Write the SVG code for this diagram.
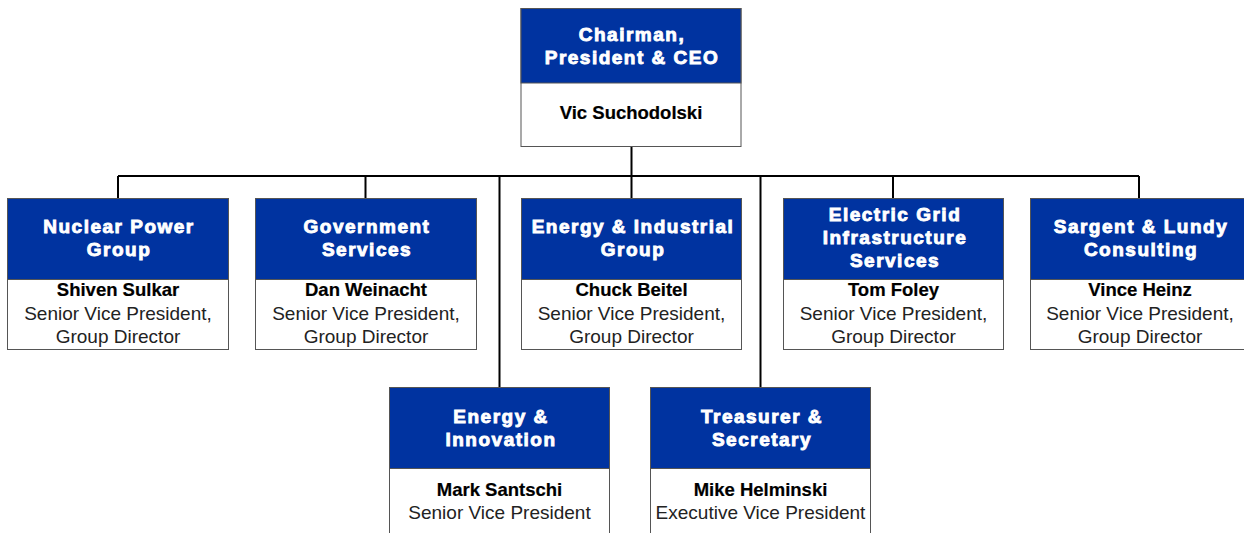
<svg xmlns="http://www.w3.org/2000/svg" width="1244" height="533" viewBox="0 0 1244 533">
<style>
.hd{fill:#0033a0;stroke:#555;stroke-width:1}
.bd{fill:#fff;stroke:#555;stroke-width:1}
.ht{font-family:"Liberation Sans",Arial,sans-serif;font-weight:bold;font-size:19px;fill:#fff;stroke:#fff;stroke-width:0.9;letter-spacing:1.5px;text-anchor:middle}
.nm{font-family:"Liberation Sans",Arial,sans-serif;font-weight:bold;font-size:18.5px;fill:#000;stroke:#000;stroke-width:0.2;text-anchor:middle}
.tt{font-family:"Liberation Sans",Arial,sans-serif;font-size:19px;fill:#222;text-anchor:middle}
.cn{stroke:#000;stroke-width:2;fill:none}
</style>
<rect width="1244" height="533" fill="#fff"/>
<g id="connectors">
<path class="cn" d="M631.5 146V176M118 176H1139M118 176V198M365.5 176V198M631.5 176V198M893 176V198M1139 176V198M499.5 176V387M760.5 176V387"/>
</g>
<g id="ceo">
<rect class="bd" x="521" y="8.5" width="220" height="138"/>
<rect class="hd" x="521" y="8.5" width="220" height="74.5"/>
<text class="ht" x="632" y="41">Chairman,</text>
<text class="ht" x="632" y="64">President &amp; CEO</text>
<text class="nm" x="631" y="119">Vic Suchodolski</text>
</g>
<g id="nuclear">
<rect class="bd" x="7.5" y="198.5" width="221" height="151"/>
<rect class="hd" x="7.5" y="198.5" width="221" height="81"/>
<text class="ht" x="119" y="233">Nuclear Power</text>
<text class="ht" x="119" y="256">Group</text>
<text class="nm" x="118" y="296">Shiven Sulkar</text>
<text class="tt" x="118" y="320">Senior Vice President,</text>
<text class="tt" x="118" y="343">Group Director</text>
</g>
<g id="government">
<rect class="bd" x="255.5" y="198.5" width="221" height="151"/>
<rect class="hd" x="255.5" y="198.5" width="221" height="81"/>
<text class="ht" x="367" y="233">Government</text>
<text class="ht" x="367" y="256">Services</text>
<text class="nm" x="366" y="296">Dan Weinacht</text>
<text class="tt" x="366" y="320">Senior Vice President,</text>
<text class="tt" x="366" y="343">Group Director</text>
</g>
<g id="energy-industrial">
<rect class="bd" x="521.5" y="198.5" width="220" height="151"/>
<rect class="hd" x="521.5" y="198.5" width="220" height="81"/>
<text class="ht" x="633" y="233">Energy &amp; Industrial</text>
<text class="ht" x="633" y="256">Group</text>
<text class="nm" x="631.5" y="296">Chuck Beitel</text>
<text class="tt" x="631.5" y="320">Senior Vice President,</text>
<text class="tt" x="631.5" y="343">Group Director</text>
</g>
<g id="electric-grid">
<rect class="bd" x="783.5" y="198.5" width="220" height="151"/>
<rect class="hd" x="783.5" y="198.5" width="220" height="81"/>
<text class="ht" x="895" y="221">Electric Grid</text>
<text class="ht" x="895" y="244">Infrastructure</text>
<text class="ht" x="895" y="267">Services</text>
<text class="nm" x="893.5" y="296">Tom Foley</text>
<text class="tt" x="893.5" y="320">Senior Vice President,</text>
<text class="tt" x="893.5" y="343">Group Director</text>
</g>
<g id="sargent-lundy">
<rect class="bd" x="1030.5" y="198.5" width="221" height="151"/>
<rect class="hd" x="1030.5" y="198.5" width="221" height="81"/>
<text class="ht" x="1141" y="233">Sargent &amp; Lundy</text>
<text class="ht" x="1141" y="256">Consulting</text>
<text class="nm" x="1140" y="296">Vince Heinz</text>
<text class="tt" x="1140" y="320">Senior Vice President,</text>
<text class="tt" x="1140" y="343">Group Director</text>
</g>
<g id="energy-innovation">
<rect class="bd" x="389.5" y="387.5" width="220" height="152"/>
<rect class="hd" x="389.5" y="387.5" width="220" height="81"/>
<text class="ht" x="501" y="423">Energy &amp;</text>
<text class="ht" x="501" y="446">Innovation</text>
<text class="nm" x="499.5" y="496">Mark Santschi</text>
<text class="tt" x="499.5" y="519">Senior Vice President</text>
</g>
<g id="treasurer">
<rect class="bd" x="650.5" y="387.5" width="220" height="152"/>
<rect class="hd" x="650.5" y="387.5" width="220" height="81"/>
<text class="ht" x="762" y="423">Treasurer &amp;</text>
<text class="ht" x="762" y="446">Secretary</text>
<text class="nm" x="760.5" y="496">Mike Helminski</text>
<text class="tt" x="760.5" y="519">Executive Vice President</text>
</g>
</svg>
